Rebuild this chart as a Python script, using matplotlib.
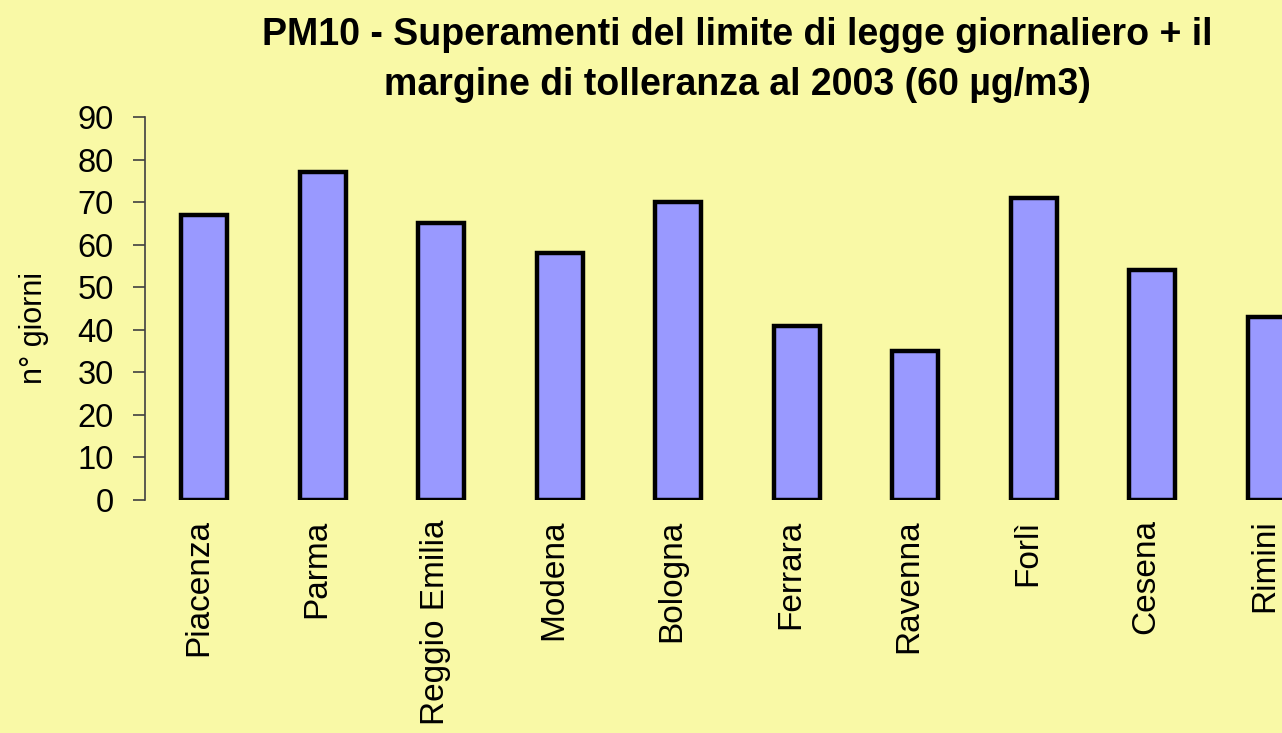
"""PM10 - giorni di superamento del limite giornaliero + margine di tolleranza (2003)."""

import matplotlib
matplotlib.use("Agg")
import matplotlib.pyplot as plt
from matplotlib.transforms import ScaledTranslation

# Data
cities = ["Piacenza", "Parma", "Reggio Emilia", "Modena", "Bologna",
          "Ferrara", "Ravenna", "Forlì", "Cesena", "Rimini"]
days = [67, 77, 65, 58, 70, 41, 35, 71, 54, 43]
yticks = [0, 10, 20, 30, 40, 50, 60, 70, 80, 90]

BG = "#F9F9A6"
BAR = "#9999FF"

plt.rcParams["font.family"] = ["Liberation Sans", "DejaVu Sans"]

fig = plt.figure(figsize=(12.82, 7.33), dpi=100, facecolor=BG)
# axes runs past the right edge of the figure, like the original (Rimini is cut)
ax = fig.add_axes([145 / 1282, 1 - 500 / 733, 1185 / 1282, 383 / 733])
ax.set_facecolor(BG)

x = list(range(len(cities)))
ax.bar(x, days, width=0.39, color=BAR, edgecolor="black", linewidth=3.2)

ax.set_xlim(-0.5, len(cities) - 0.5)
ax.set_ylim(0, 90)
ax.set_yticks(yticks)
ax.set_xticks(x)
ax.set_xticklabels(cities, rotation=90, fontsize=24, ha="center", va="top")
ax.tick_params(axis="x", length=0, pad=14)
ax.tick_params(axis="y", direction="out", length=8.5, width=1.2,
               color="#404040", labelsize=23.5, pad=14)

# rotated labels sit a little left of the bar centre in the original
shift = ScaledTranslation(-6 / 100, 0, fig.dpi_scale_trans)
for lbl in ax.get_xticklabels():
    lbl.set_transform(lbl.get_transform() + shift)

for side in ("top", "right", "bottom"):
    ax.spines[side].set_visible(False)
ax.spines["left"].set_color("#404040")
ax.spines["left"].set_linewidth(1.2)

ax.set_ylabel("n° giorni", fontsize=22)
ax.yaxis.set_label_coords(-0.081, 0.45)

ax.set_title("PM10 - Superamenti del limite di legge giornaliero + il\n"
             "margine di tolleranza al 2003 (60 µg/m3)",
             fontsize=27, fontweight="bold", linespacing=1.5, pad=16)

fig.savefig("out.png", dpi=100, facecolor=BG)
plt.close(fig)
